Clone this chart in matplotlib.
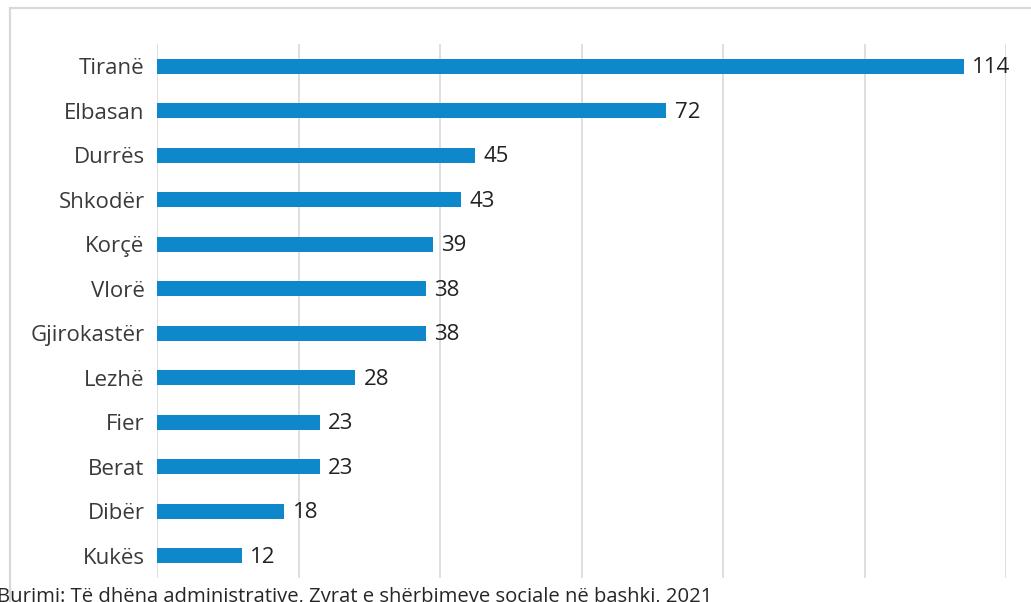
import matplotlib.pyplot as plt
from matplotlib.patches import Rectangle

# values
regions = ["Tiranë", "Elbasan", "Durrës", "Shkodër", "Korçë", "Vlorë",
           "Gjirokastër", "Lezhë", "Fier", "Berat", "Dibër", "Kukës"]
counts = [114, 72, 45, 43, 39, 38, 38, 28, 23, 23, 18, 12]
grid_ticks = [0, 20, 40, 60, 80, 100, 120]
source = "Burimi: Të dhëna administrative, Zyrat e shërbimeve sociale në bashki, 2021"

plt.rcParams["font.family"] = ["Open Sans", "DejaVu Sans"]

fig = plt.figure(figsize=(10.31, 6.02), dpi=100)
ax = fig.add_axes([157 / 1031, 1 - 578 / 602, (1006 - 157) / 1031, (578 - 44) / 602])

# outer light gray frame, partly cut off like in the original
fig.patches.append(Rectangle((10 / 1031, -0.1), 1.2, 1 - 8 / 602 + 0.1,
                             transform=fig.transFigure, fill=False,
                             edgecolor="#d9d9d9", linewidth=1.6, zorder=0))

y = list(range(len(regions)))
bars = ax.barh(y, counts, height=0.34, color="#0F88CB", zorder=3)
ax.set_ylim(len(regions) - 0.5, -0.5)
ax.set_xlim(0, 120)

ax.set_yticks(y)
ax.set_yticklabels(regions, fontsize=16, color="#3a3a3a")
ax.set_xticks(grid_ticks)
ax.set_xticklabels([])
ax.tick_params(axis="both", length=0)
ax.tick_params(axis="y", pad=9)
ax.grid(axis="x", color="#d9d9d9", linewidth=1.2, zorder=0)
for s in ax.spines.values():
    s.set_visible(False)

for bar, v in zip(bars, counts):
    ax.annotate(str(v), (bar.get_width(), bar.get_y() + bar.get_height() / 2),
                xytext=(6, -1), textcoords="offset points", va="center",
                fontsize=16, color="#222222")

fig.text(-0.003, 1 - 587 / 602, source, ha="left", va="top",
         fontsize=14.6, color="#262626")

fig.savefig("out.png", dpi=100)
